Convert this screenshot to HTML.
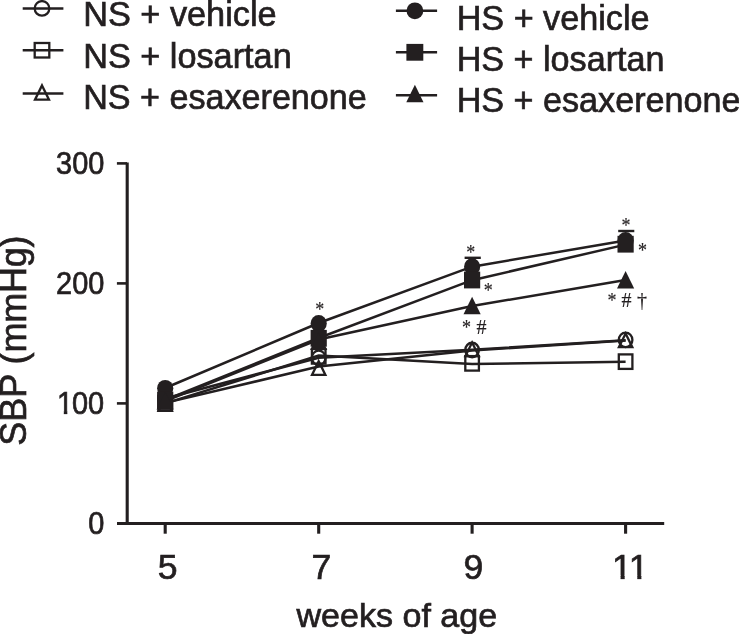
<!DOCTYPE html>
<html><head><meta charset="utf-8"><title>SBP chart</title>
<style>
html,body{margin:0;padding:0;background:#fff;}
body{width:739px;height:634px;overflow:hidden;}
svg{display:block;will-change:transform;}
text{font-family:"Liberation Sans",sans-serif;fill:#231f20;stroke:#231f20;stroke-width:0.7px;}
.sym{font-family:"Liberation Serif",serif;font-size:20px;stroke-width:0.15px;}
</style></head><body>
<svg width="739" height="634" viewBox="0 0 739 634">
<rect width="739" height="634" fill="#fff"/>

<line x1="22.7" y1="8.4" x2="63.4" y2="8.4" stroke="#231f20" stroke-width="2.5"/>
<circle cx="42.0" cy="8.4" r="7.3" fill="none" stroke="#231f20" stroke-width="2.3"/>
<text x="83.2" y="26.3" font-size="35.2" textLength="193.4" lengthAdjust="spacingAndGlyphs">NS + vehicle</text>
<line x1="22.7" y1="50.3" x2="63.4" y2="50.3" stroke="#231f20" stroke-width="2.5"/>
<rect x="34.7" y="43.0" width="14.6" height="14.5" fill="none" stroke="#231f20" stroke-width="2.3"/>
<text x="83.2" y="68.0" font-size="35.2" textLength="208.5" lengthAdjust="spacingAndGlyphs">NS + losartan</text>
<line x1="22.7" y1="93.4" x2="63.4" y2="93.4" stroke="#231f20" stroke-width="2.5"/>
<polygon points="42.0,85.4 49.0,99.7 35.0,99.7" fill="none" stroke="#231f20" stroke-width="2.3" stroke-linejoin="miter"/>
<text x="83.2" y="109.3" font-size="35.2" textLength="283.6" lengthAdjust="spacingAndGlyphs">NS + esaxerenone</text>
<line x1="395.9" y1="10.8" x2="437.1" y2="10.8" stroke="#231f20" stroke-width="2.5"/>
<circle cx="414.9" cy="10.8" r="8.4" fill="#231f20"/>
<text x="456.7" y="29.7" font-size="35.2" textLength="192.8" lengthAdjust="spacingAndGlyphs">HS + vehicle</text>
<line x1="395.9" y1="52.3" x2="437.1" y2="52.3" stroke="#231f20" stroke-width="2.5"/>
<rect x="406.4" y="43.9" width="16.9" height="16.8" fill="#231f20"/>
<text x="456.7" y="70.8" font-size="35.2" textLength="207.8" lengthAdjust="spacingAndGlyphs">HS + losartan</text>
<line x1="395.9" y1="95.2" x2="437.1" y2="95.2" stroke="#231f20" stroke-width="2.5"/>
<polygon points="414.9,84.7 423.5,102.2 406.3,102.2" fill="#231f20"/>
<text x="456.7" y="112.4" font-size="35.2" textLength="283.8" lengthAdjust="spacingAndGlyphs">HS + esaxerenone</text>
<line x1="127.2" y1="162.6" x2="127.2" y2="524.9" stroke="#231f20" stroke-width="3.1"/>
<line x1="117" y1="523.45" x2="664.2" y2="523.45" stroke="#231f20" stroke-width="2.9"/>
<line x1="116.9" y1="163.4" x2="127" y2="163.4" stroke="#231f20" stroke-width="2.6"/>
<line x1="116.9" y1="283.4" x2="127" y2="283.4" stroke="#231f20" stroke-width="2.6"/>
<line x1="116.9" y1="403.4" x2="127" y2="403.4" stroke="#231f20" stroke-width="2.6"/>
<line x1="165.2" y1="523.4" x2="165.2" y2="533.7" stroke="#231f20" stroke-width="3.1"/>
<line x1="318.7" y1="523.4" x2="318.7" y2="533.7" stroke="#231f20" stroke-width="3.1"/>
<line x1="472.1" y1="523.4" x2="472.1" y2="533.7" stroke="#231f20" stroke-width="3.1"/>
<line x1="625.6" y1="523.4" x2="625.6" y2="533.7" stroke="#231f20" stroke-width="3.1"/>
<text transform="translate(56.10,174.20) scale(0.9461,1)" font-size="30.6">300</text>
<text transform="translate(56.10,294.20) scale(0.9461,1)" font-size="30.6">200</text>
<text transform="translate(88.30,534.20) scale(0.9461,1)" font-size="30.6">0</text>
<g clip-path="url(#c0)"><text transform="translate(57.00,414.20) scale(0.9461,1)" x="0.00 15.75 32.77" font-size="30.6">100</text></g>
<text transform="translate(157.80,579.20) scale(1.0000,1)" font-size="35.6">5</text>
<text transform="translate(311.50,579.20) scale(1.0000,1)" font-size="35.6">7</text>
<text transform="translate(463.45,579.20) scale(1.0000,1)" font-size="35.6">9</text>
<g clip-path="url(#c1)"><text transform="translate(612.10,579.20) scale(1.0000,1)" x="0.00 16.70" font-size="35.6">11</text></g>
<text x="296.4" y="627.0" font-size="33.8" textLength="200.8" lengthAdjust="spacingAndGlyphs">weeks of age</text>
<text transform="translate(25.9,445.7) rotate(-90) scale(0.9792,1)" x="0.00 24.55 49.09 73.64 83.03 95.17 125.54 155.91 182.24 202.51" font-size="36.8">SBP (mmHg)</text>
<polyline points="165.2,398.5 318.7,357.7 472.1,349.8 625.6,340.2" fill="none" stroke="#231f20" stroke-width="2.5"/>
<polyline points="165.2,403.4 318.7,355.6 472.1,364.0 625.6,361.7" fill="none" stroke="#231f20" stroke-width="2.5"/>
<polyline points="165.2,402.9 318.7,366.5 472.1,350.5 625.6,340.5" fill="none" stroke="#231f20" stroke-width="2.5"/>
<polyline points="165.2,388.0 318.7,323.0 472.1,266.7 625.6,240.4" fill="none" stroke="#231f20" stroke-width="2.5"/>
<polyline points="165.2,400.0 318.7,338.0 472.1,280.2 625.6,244.6" fill="none" stroke="#231f20" stroke-width="2.5"/>
<polyline points="165.2,401.0 318.7,339.5 472.1,306.0 625.6,280.0" fill="none" stroke="#231f20" stroke-width="2.5"/>
<line x1="464.6" y1="257.8" x2="480.8" y2="257.8" stroke="#231f20" stroke-width="2.4"/>
<line x1="618.2" y1="231" x2="634.3" y2="231" stroke="#231f20" stroke-width="2.4"/>
<ellipse cx="165.2" cy="398.5" rx="6.8" ry="7.25" fill="none" stroke="#231f20" stroke-width="2.3"/>
<rect x="158.4" y="395.8" width="13.6" height="14.5" fill="none" stroke="#231f20" stroke-width="2.3"/>
<polygon points="165.2,397.3 171.9,410.9 158.5,410.9" fill="none" stroke="#231f20" stroke-width="2.3" stroke-linejoin="miter"/>
<ellipse cx="165.2" cy="388.3" rx="8.1" ry="8.4" fill="#231f20"/>
<rect x="157.1" y="391.6" width="16.2" height="16.8" fill="#231f20"/>
<polygon points="165.2,392.1 173.8,409.6 156.6,409.6" fill="#231f20"/>
<ellipse cx="318.7" cy="357.8" rx="6.8" ry="7.25" fill="none" stroke="#231f20" stroke-width="2.3"/>
<rect x="311.9" y="349.1" width="13.6" height="14.5" fill="none" stroke="#231f20" stroke-width="2.3"/>
<polygon points="318.7,361.2 325.4,374.9 312.0,374.9" fill="none" stroke="#231f20" stroke-width="2.3" stroke-linejoin="miter"/>
<ellipse cx="318.7" cy="323.5" rx="8.1" ry="8.4" fill="#231f20"/>
<rect x="310.6" y="329.9" width="16.2" height="16.8" fill="#231f20"/>
<polygon points="318.7,332.4 327.3,349.9 310.1,349.9" fill="#231f20"/>
<ellipse cx="472.1" cy="350.0" rx="6.8" ry="7.25" fill="none" stroke="#231f20" stroke-width="2.3"/>
<rect x="465.3" y="356.1" width="13.6" height="14.5" fill="none" stroke="#231f20" stroke-width="2.3"/>
<polygon points="472.1,342.5 478.8,356.1 465.4,356.1" fill="none" stroke="#231f20" stroke-width="2.3" stroke-linejoin="miter"/>
<ellipse cx="472.1" cy="266.7" rx="8.1" ry="8.4" fill="#231f20"/>
<rect x="464.0" y="271.6" width="16.2" height="16.8" fill="#231f20"/>
<polygon points="472.1,296.8 480.7,314.3 463.5,314.3" fill="#231f20"/>
<ellipse cx="625.6" cy="339.9" rx="6.8" ry="7.25" fill="none" stroke="#231f20" stroke-width="2.3"/>
<rect x="618.8" y="354.4" width="13.6" height="14.5" fill="none" stroke="#231f20" stroke-width="2.3"/>
<polygon points="625.6,333.6 632.3,347.2 618.9,347.2" fill="none" stroke="#231f20" stroke-width="2.3" stroke-linejoin="miter"/>
<ellipse cx="625.6" cy="240.4" rx="8.1" ry="8.4" fill="#231f20"/>
<rect x="617.5" y="235.8" width="16.2" height="16.8" fill="#231f20"/>
<polygon points="625.6,271.1 634.2,288.6 617.0,288.6" fill="#231f20"/>
<text class="sym" transform="translate(315.17,315.65) scale(0.9,1)" font-size="21">*</text>
<text class="sym" transform="translate(466.32,258.95) scale(0.9,1)" font-size="21">*</text>
<text class="sym" transform="translate(483.87,296.95) scale(0.9,1)" font-size="21">*</text>
<text class="sym" transform="translate(461.92,333.85) scale(0.9,1)" font-size="21">*</text>
<text class="sym" transform="translate(621.57,231.95) scale(0.9,1)" font-size="21">*</text>
<text class="sym" transform="translate(637.97,256.85) scale(0.9,1)" font-size="21">*</text>
<text class="sym" transform="translate(607.42,306.85) scale(0.9,1)" font-size="21">*</text>
<text class="sym" x="476.6" y="334.3">#</text>
<text class="sym" x="621.6" y="306.6">#</text>
<text class="sym" x="636.9" y="306.6">†</text>
<defs><clipPath id="c0"><rect x="55.00" y="383.60" width="18.10" height="27.31"/><rect x="63.83" y="383.60" width="3.46" height="31.00"/><rect x="72.50" y="383.60" width="16.10" height="39.78"/><rect x="88.60" y="383.60" width="16.10" height="39.78"/></clipPath><clipPath id="c1"><rect x="610.10" y="543.60" width="21.80" height="31.94"/><rect x="620.60" y="543.60" width="4.05" height="36.00"/><rect x="626.80" y="543.60" width="21.80" height="31.94"/><rect x="637.30" y="543.60" width="4.05" height="36.00"/></clipPath></defs>
</svg></body></html>
